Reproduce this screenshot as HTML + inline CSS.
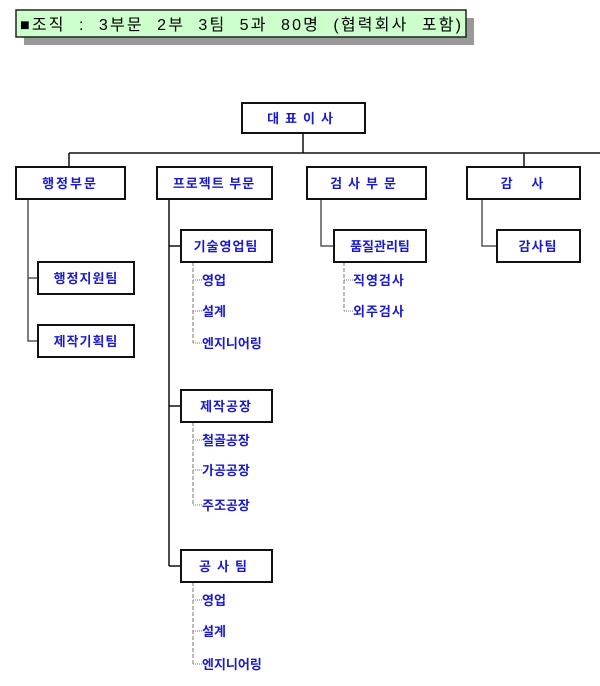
<!DOCTYPE html>
<html><head><meta charset="utf-8"><style>
body{margin:0;background:#fff}
svg text{font-family:"Liberation Sans","Noto Sans CJK KR","NanumGothic",sans-serif;font-weight:bold;fill:#1a1acc;font-size:13px}
</style></head><body>
<svg width="600" height="681" xmlns="http://www.w3.org/2000/svg">
<rect x="24" y="18" width="450" height="27" fill="#999"/>
<rect x="16" y="10" width="450" height="27" fill="#ccffcc" stroke="#222" stroke-width="1.5"/>
<text x="20" y="30" textLength="441" lengthAdjust="spacing" style="fill:#000;font-weight:normal;font-size:16px" xml:space="preserve">■조직  :  3부문  2부  3팀  5과  80명  (협력회사  포함)</text>
<g stroke="#111" stroke-width="1.5" fill="none">
<line x1="303" y1="133" x2="303" y2="153"/>
<line x1="69" y1="153" x2="600" y2="153"/>
<line x1="69" y1="153" x2="69" y2="167"/>
<line x1="524" y1="153" x2="524" y2="167"/>
<line x1="169" y1="199" x2="169" y2="566"/>
<line x1="169" y1="246" x2="181" y2="246"/>
<line x1="169" y1="406" x2="181" y2="406"/>
<line x1="169" y1="566" x2="181" y2="566"/>
</g>
<g stroke="#555" stroke-width="1.5" fill="none">
<polyline points="28,199 28,278 38,278"/>
<polyline points="28,278 28,341 38,341"/>
<polyline points="321,199 321,246 334,246"/>
<polyline points="482,199 482,246 497,246"/>
</g>
<g stroke="#777" stroke-width="1" fill="none" stroke-dasharray="4,2">
<line x1="193" y1="262" x2="193" y2="343"/>
<line x1="193" y1="422" x2="193" y2="505"/>
<line x1="193" y1="582" x2="193" y2="664"/>
<line x1="344" y1="262" x2="344" y2="311"/>
</g>
<g stroke="#777" stroke-width="1" fill="none" stroke-dasharray="1,1">
<line x1="193" y1="280" x2="202" y2="280"/><line x1="193" y1="311" x2="202" y2="311"/><line x1="193" y1="343" x2="202" y2="343"/>
<line x1="193" y1="440" x2="202" y2="440"/><line x1="193" y1="470" x2="202" y2="470"/><line x1="193" y1="505" x2="202" y2="505"/>
<line x1="193" y1="600" x2="202" y2="600"/><line x1="193" y1="631" x2="202" y2="631"/><line x1="193" y1="664" x2="202" y2="664"/>
<line x1="344" y1="280" x2="353" y2="280"/><line x1="344" y1="311" x2="353" y2="311"/>
</g>
<g fill="#fff" stroke="#111" stroke-width="2">
<rect x="242" y="103" width="123" height="30"/>
<rect x="16" y="167" width="109" height="32"/>
<rect x="157" y="167" width="115" height="32"/>
<rect x="307" y="167" width="119" height="32"/>
<rect x="467" y="167" width="113" height="32"/>
<rect x="38" y="262" width="96" height="32"/>
<rect x="38" y="325" width="96" height="32"/>
<rect x="181" y="230" width="91" height="32"/>
<rect x="181" y="390" width="91" height="32"/>
<rect x="181" y="550" width="91" height="32"/>
<rect x="334" y="230" width="92" height="32"/>
<rect x="497" y="230" width="83" height="32"/>
</g>
<g text-anchor="middle">
<text x="303" y="123" style="letter-spacing:6px">대표이사</text>
<text x="70" y="188" style="letter-spacing:2px">행정부문</text>
<text x="214" y="188" style="letter-spacing:1px">프로젝트 부문</text>
<text x="366" y="188" style="letter-spacing:6px">검사부문</text>
<text x="523" y="188" style="letter-spacing:2px">감&#160;&#160;&#160;사</text>
<text x="86" y="283" style="letter-spacing:1px">행정지원팀</text>
<text x="86" y="346" style="letter-spacing:1px">제작기획팀</text>
<text x="226" y="251" style="letter-spacing:1px">기술영업팀</text>
<text x="226" y="411" style="letter-spacing:1px">제작공장</text>
<text x="226" y="571" style="letter-spacing:6px">공사팀</text>
<text x="380" y="251">품질관리팀</text>
<text x="538" y="251" style="letter-spacing:1px">감사팀</text>
</g>
<g font-size="12">
<text x="202" y="285">영업</text><text x="202" y="316">설계</text><text x="202" y="348">엔지니어링</text>
<text x="202" y="445">철골공장</text><text x="202" y="475">가공공장</text><text x="202" y="510">주조공장</text>
<text x="202" y="605">영업</text><text x="202" y="636">설계</text><text x="202" y="669">엔지니어링</text>
<text x="353" y="285" style="letter-spacing:1px">직영검사</text><text x="353" y="316" style="letter-spacing:1px">외주검사</text>
</g>
</svg>
</body></html>
